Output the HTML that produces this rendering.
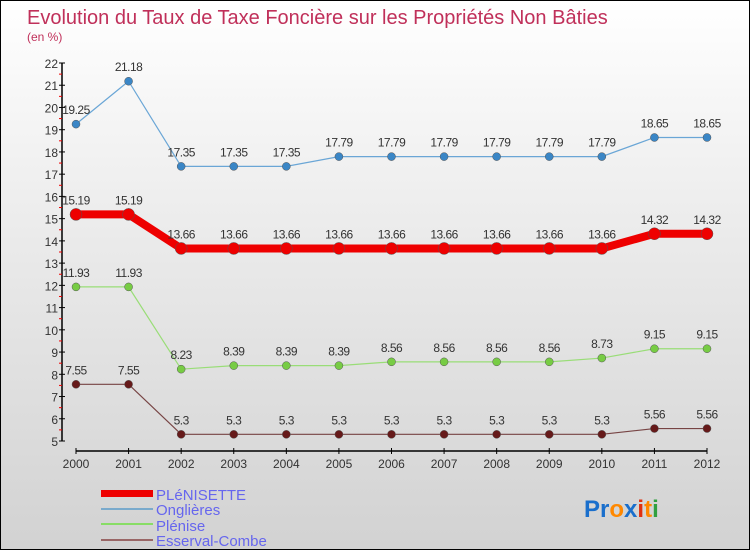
<!DOCTYPE html>
<html><head><meta charset="utf-8"><style>
body{margin:0}
#c{width:750px;height:550px;position:relative;box-sizing:border-box;border:1px solid #000;background:linear-gradient(#fff 0%,#ececec 40%,#d2d2d2 100%);font-family:"Liberation Sans",sans-serif;overflow:hidden}
svg text{font-family:"Liberation Sans",sans-serif}
</style></head><body>
<div id="c">
<svg id="s" width="750" height="550" xmlns="http://www.w3.org/2000/svg">
<text x="26" y="23" font-size="20" fill="#c0305a">Evolution du Taux de Taxe Foncière sur les Propriétés Non Bâties</text>
<text x="26" y="40" font-size="12" fill="#c0305a">(en %)</text>
<g id="axes"></g><g id="series"></g>
<g>
<rect x="100" y="489" width="52" height="7" fill="#e00"/>
<text x="155" y="499" font-size="15" fill="#6666ee">PLéNISETTE</text>
<rect x="100" y="507" width="52" height="2" fill="#7aaacc"/>
<text x="155" y="514" font-size="15" fill="#6666ee">Onglières</text>
<rect x="100" y="522" width="52" height="2" fill="#88dd66"/>
<text x="155" y="530" font-size="15" fill="#6666ee">Plénise</text>
<rect x="100" y="538" width="52" height="2" fill="#996666"/>
<text x="155" y="545" font-size="15" fill="#6666ee">Esserval-Combe</text>
</g>
<text x="583" y="516" font-size="24" font-weight="bold"><tspan fill="#1a6fcc">Pr</tspan><tspan fill="#ff8800">o</tspan><tspan fill="#1a6fcc">x</tspan><tspan fill="#e03010">i</tspan><tspan fill="#ff8800">t</tspan><tspan fill="#30a040">i</tspan></text>
</svg></div>
<script>
const years=[2000,2001,2002,2003,2004,2005,2006,2007,2008,2009,2010,2011,2012];
const yTicks=[5,6,7,8,9,10,11,12,13,14,15,16,17,18,19,20,21,22];
const plenisette=[15.19,15.19,13.66,13.66,13.66,13.66,13.66,13.66,13.66,13.66,13.66,14.32,14.32];
const onglieres=[19.25,21.18,17.35,17.35,17.35,17.79,17.79,17.79,17.79,17.79,17.79,18.65,18.65];
const plenise=[11.93,11.93,8.23,8.39,8.39,8.39,8.56,8.56,8.56,8.56,8.73,9.15,9.15];
const esserval=[7.55,7.55,5.3,5.3,5.3,5.3,5.3,5.3,5.3,5.3,5.3,5.56,5.56];
const NS="http://www.w3.org/2000/svg";
const X=i=>75+i*(706-75)/(years.length-1);
const Y=v=>440-(v-5)*(440-62)/17;
function mk(t,a,p){const e=document.createElementNS(NS,t);for(const k in a)e.setAttribute(k,a[k]);p.appendChild(e);return e;}
const ax=document.getElementById('axes'),sr=document.getElementById('series');
let l=mk('line',{x1:61,y1:Y(22),x2:61,y2:Y(5),stroke:'#000','stroke-width':1.5},ax);


yTicks.forEach(v=>{
 let t=mk('line',{x1:58,y1:Y(v),x2:64,y2:Y(v),stroke:'#000'},ax);
 
 
 if(v<22){let m=mk('line',{x1:58,y1:Y(v+0.5),x2:61,y2:Y(v+0.5),stroke:'#e00'},ax);
 
 }
 let tx=mk('text',{x:57,y:Y(v)+5,'font-size':12,'text-anchor':'end',fill:'#333'},ax);tx.textContent=v;
 
 
});
let xa=mk('line',{x1:X(0),y1:450,x2:X(12),y2:450,stroke:'#000','stroke-width':1.5},ax);


years.forEach((y,i)=>{
 let t=mk('line',{x1:X(i),y1:447,x2:X(i),y2:453,stroke:'#000'},ax);
 
 
 let tx=mk('text',{x:X(i),y:467,'font-size':12,'text-anchor':'middle',fill:'#333'},ax);tx.textContent=y;
 
 
});
function series(d,name,col,dot,w,r){
 const g=mk('g',{},sr);
 
 
 const p=mk('polyline',{points:d.map((v,i)=>X(i)+','+Y(v)).join(' '),fill:'none',stroke:col,'stroke-width':w},g);
 
 
 d.forEach((v,i)=>{
  const c=mk('circle',{cx:X(i),cy:Y(v),r:r,fill:dot,stroke:'#555','stroke-width':0.5},g);
  
  
  const t=mk('text',{x:X(i),y:Y(v)-10,'font-size':12,'text-anchor':'middle',fill:'#333','letter-spacing':'-0.5'},g);t.textContent=v;
  
  
 });
}
series(onglieres,'onglieres','#6aa6d6','#3a86c6',1.2,4);
series(plenise,'plenise','#99dd77','#77cc44',1.2,4);
series(esserval,'esserval-combe','#774444','#661a1a',1.2,4);
series(plenisette,'plenisette','#ee0000','#ee0000',8,6);
</script>
</body></html>
